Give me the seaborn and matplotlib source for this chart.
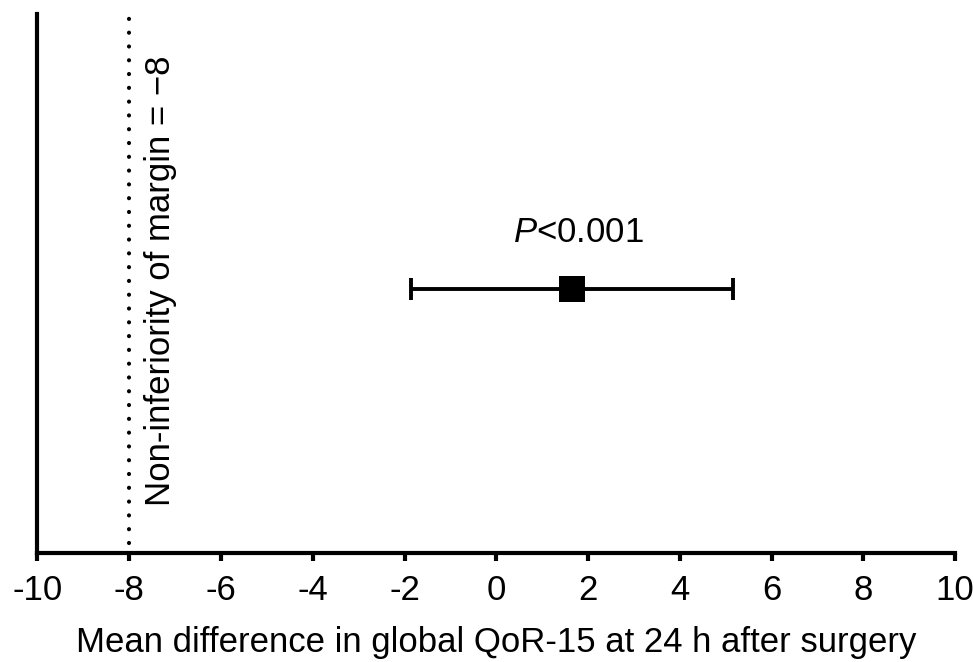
import matplotlib
matplotlib.use("Agg")
import matplotlib.pyplot as plt
import seaborn as sns
import pandas as pd
import numpy as np

# data
mean_diff = [1.65]
ci_low = [-1.85]
ci_high = [5.15]
row_pos = [0.49]
margin = -8
x_ticks = [-10, -8, -6, -4, -2, 0, 2, 4, 6, 8, 10]
p_label = "<0.001"
margin_label = "Non-inferiority of margin = \u22128"
xlabel = "Mean difference in global QoR-15 at 24 h after surgery"

sns.set_theme(style="white")
plt.rcParams['font.family'] = ['Liberation Sans', 'DejaVu Sans']
plt.rcParams['mathtext.fontset'] = 'custom'
plt.rcParams['mathtext.it'] = 'Liberation Sans:italic'
plt.rcParams['mathtext.rm'] = 'Liberation Sans'
plt.rcParams['text.color'] = 'black'
plt.rcParams['axes.labelcolor'] = 'black'

FS = 25

fig = plt.figure(figsize=(9.74, 6.62), dpi=100)
ax = fig.add_axes([0.0385, 0.1647, 0.9420, 0.8143])

df = pd.DataFrame({"x": mean_diff, "y": row_pos, "lo": ci_low, "hi": ci_high})
xerr = np.array([df["x"] - df["lo"], df["hi"] - df["x"]])
ax.errorbar(df["x"], df["y"], xerr=xerr, fmt="none", ecolor="black",
            elinewidth=2.8, capsize=8, capthick=2.8, zorder=2)
sns.scatterplot(data=df, x="x", y="y", marker="s", s=330, color="black",
                edgecolor="black", linewidth=0, ax=ax, zorder=3)

ax.axvline(margin, ymin=0.018, ymax=1.0, color="black", linestyle=(0, (0.01, 3.3)),
           linewidth=3.0, dash_capstyle="round")

ax.text(mean_diff[0] + 0.15, row_pos[0] + 0.105, "$\\mathit{P}$" + p_label,
        ha="center", va="center", fontsize=FS, color="black")
ax.text(-7.31, 0.505, margin_label, rotation=90, ha="center", va="center",
        fontsize=FS, color="black")

ax.set_xlim(-10, 10)
ax.set_ylim(0, 1)
ax.set_xticks(x_ticks)
ax.set_xticklabels([str(t) for t in x_ticks])
ax.set_yticks([])
ax.set_xlabel(xlabel, fontsize=FS, labelpad=14, color="black")
ax.set_ylabel("")

for s in ["top", "right"]:
    ax.spines[s].set_visible(False)
for s in ["left", "bottom"]:
    ax.spines[s].set_linewidth(3.0)
    ax.spines[s].set_color("black")
ax.tick_params(axis="x", direction="out", length=6, width=3.0, labelsize=FS,
               pad=9, colors="black", labelcolor="black", bottom=True)

fig.savefig("out.png", dpi=100)
